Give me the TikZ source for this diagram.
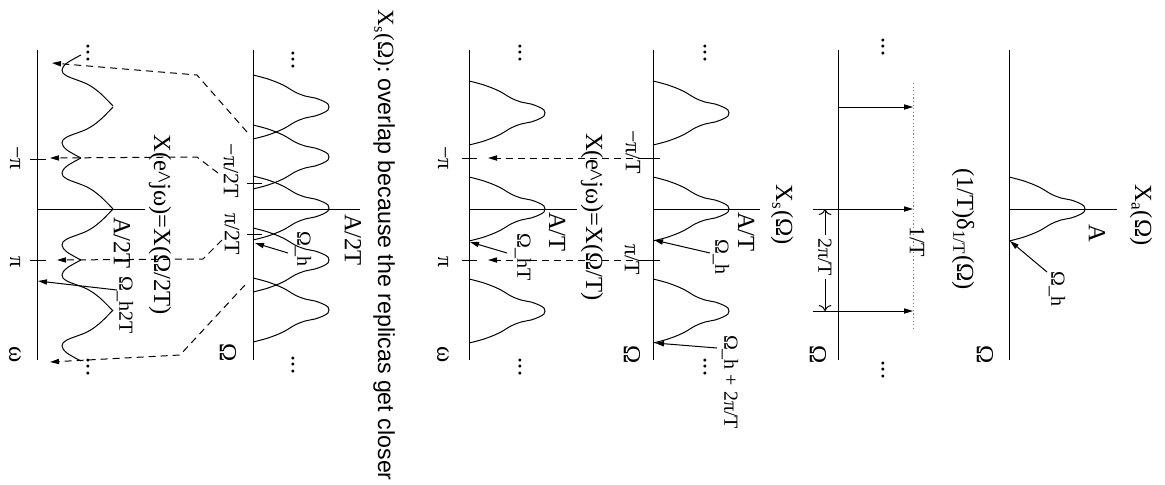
\documentclass[tikz,border=0pt]{standalone}
\usepackage{fontspec}
\setmainfont{Liberation Serif}
\newfontfamily\sansf{Liberation Sans}
\usetikzlibrary{arrows.meta}
\begin{document}
\begin{tikzpicture}[x=0.5pt,y=-0.5pt,line width=0.5pt,
  big/.style={rotate=-90,inner sep=0pt,font=\fontsize{12.3}{14}\selectfont},
  mid/.style={rotate=-90,inner sep=0pt,font=\fontsize{11}{12}\selectfont},
  sml/.style={rotate=-90,inner sep=0pt,font=\fontsize{10}{11}\selectfont},
  tipline/.style={-{Triangle[length=4.5pt,width=2.6pt]}},
  dline/.style={dash pattern=on 3.5pt off 2.5pt,-{Triangle[length=4.5pt,width=2.6pt]}},
  dotline/.style={gray,dash pattern=on 0.6pt off 1.2pt},
  pulse/.pic={\draw plot[smooth,tension=0.6] coordinates {(0,-32) (15,-28) (30,-22) (42,-15) (52,-11) (62,-9) (70,-6) (75,-3) (76,0) (75,3) (70,6) (62,9) (52,11) (42,15) (30,22) (15,28) (0,32)};}
]
\useasboundingbox (0,0) rectangle (1165,484);

% ---------- Panel 1: X_a ----------
\coordinate (p1t) at (1009,50); \coordinate (p1b) at (1009,360);
\coordinate (p1o) at (1009,209); \coordinate (p1v) at (1117,209);
\draw (p1t) -- (p1b);
\draw (p1o) -- (p1v);
\pic at (1009,209) {pulse};
\node[big] (xa) at (1141,215) {X\textsubscript{a}(Ω)};
\node[big] (A1) at (1097,233) {A};
\node[big] (om1) at (985,355) {Ω};
\node[sml] (oh1) at (1057,289) {Ω\_h};
\coordinate (oh1s) at (1047,272); \coordinate (oh1e) at (1010,241);
\draw[tipline] (oh1s) -- (oh1e);

% ---------- Panel 2: delta comb ----------
\coordinate (p2t) at (838,50); \coordinate (p2b) at (838,360);
\draw (p2t) -- (p2b);
\foreach \y/\n in {107/a,209/b,311/c}{
  \coordinate (imp\n s) at (838,\y); \coordinate (imp\n e) at (913,\y);
  \draw[tipline] (imp\n s) -- (imp\n e);}
\coordinate (dot1) at (913,83); \coordinate (dot2) at (913,328);
\draw[dotline] (dot1) -- (dot2);
\coordinate (ex1a) at (813,209); \coordinate (ex2a) at (813,311);
\draw (ex1a) -- (impbs);
\draw (ex2a) -- (impcs);
\coordinate (dm1) at (825,209); \coordinate (dm2) at (825,311);
\node[sml,fill=white,inner xsep=1.5pt] (twopiT) at (825,257) {2π/T};
\draw[-{To[length=3pt]}] (twopiT) -- (dm1);
\draw[-{To[length=3pt]}] (twopiT) -- (dm2);
\node[big] (delta) at (963,229) {(1/T)δ\textsubscript{1/T}(Ω)};
\node[mid] (oneT) at (917,242) {1/T};
\node[big] (om2) at (818,355) {Ω};
\node[big] (d2a) at (883,47) {...};
\node[big] (d2b) at (883,370) {...};

% ---------- Panel 3: X_s ----------
\coordinate (p3t) at (653,50); \coordinate (p3b) at (653,360);
\coordinate (p3o) at (653,209); \coordinate (p3v) at (760,209);
\draw (p3t) -- (p3b);
\draw (p3o) -- (p3v);
\foreach \y in {113,209,311} \pic at (653,\y) {pulse};
\coordinate (t3a1) at (645,158); \coordinate (t3a2) at (660,158);
\coordinate (t3b1) at (645,260); \coordinate (t3b2) at (660,260);
\draw (t3a1) -- (t3a2);
\draw (t3b1) -- (t3b2);
\node[mid] (mpiT) at (633,152) {−π/T};
\node[mid] (piT) at (632,260) {π/T};
\node[big] (xs1) at (782,215) {X\textsubscript{s}(Ω)};
\node[big] (AT1) at (746,232) {A/T};
\node[sml] (oh3) at (721,257) {Ω\_h};
\coordinate (oh3s) at (710,253); \coordinate (oh3e) at (654,240);
\draw[tipline] (oh3s) -- (oh3e);
\node[sml] (oh3b) at (730,382) {Ω\_h + 2π/T};
\coordinate (oh3bs) at (717,348); \coordinate (oh3be) at (655,343);
\draw[tipline] (oh3bs) -- (oh3be);
\node[big] (om3) at (632,355) {Ω};
\node[big] (d3a) at (705,53) {...};
\node[big] (d3b) at (705,367) {...};

% ---------- Panel 4: X(e^jw) ----------
\coordinate (p4t) at (469,50); \coordinate (p4b) at (469,360);
\coordinate (p4o) at (469,209); \coordinate (p4v) at (577,209);
\draw (p4t) -- (p4b);
\draw (p4o) -- (p4v);
\foreach \y in {113,209,311} \pic at (469,\y) {pulse};
\coordinate (t4a1) at (462,158); \coordinate (t4a2) at (477,158);
\coordinate (t4b1) at (462,260); \coordinate (t4b2) at (477,260);
\draw (t4a1) -- (t4a2);
\draw (t4b1) -- (t4b2);
\node[mid] (mpi4) at (443,158) {−π};
\node[mid] (pi4) at (443,262) {π};
\node[big] (w4) at (443,355) {ω};
\node[big] (xe1) at (592,217) {X(e\textasciicircum jω)=X(Ω/T)};
\node[big] (AT4) at (557,232) {A/T};
\node[sml] (oh4) at (523,257) {Ω\_hT};
\coordinate (oh4s) at (507,253); \coordinate (oh4e) at (470,242);
\draw[tipline] (oh4s) -- (oh4e);
\node[big] (d4a) at (520,53) {...};
\node[big] (d4b) at (520,367) {...};
\coordinate (m3a) at (488,158); \coordinate (m3b) at (488,260);
\draw[dline] (t3a1) -- (m3a);
\draw[dline] (t3b1) -- (m3b);

% ---------- title ----------
\node[big,font=\fontsize{11.6}{14}\selectfont] (title) at (384,245) {X\textsubscript{s}(Ω): {\sansf overlap because the replicas get closer}};

% ---------- Panel 5: overlapping X_s ----------
\coordinate (p5t) at (253,50); \coordinate (p5b) at (253,360);
\coordinate (p5o) at (253,209); \coordinate (p5v) at (360,209);
\draw (p5t) -- (p5b);
\draw (p5o) -- (p5v);
\foreach \y in {107,157,208,260,310} \pic at (253,\y) {pulse};
\coordinate (t5a1) at (247,183); \coordinate (t5a2) at (262,183);
\coordinate (t5b1) at (247,234); \coordinate (t5b2) at (262,234);
\draw (t5a1) -- (t5a2);
\draw (t5b1) -- (t5b2);
\node[mid] (mpi2T) at (231,171) {−π/2T};
\node[mid] (pi2T) at (232,234) {π/2T};
\node[big] (A2T) at (353,240) {A/2T};
\node[sml] (oh5) at (303,249) {Ω\_h};
\coordinate (oh5s) at (288,253); \coordinate (oh5e) at (255,243);
\draw[tipline] (oh5s) -- (oh5e);
\node[big] (om5) at (228,353) {Ω};
\node[big] (d5a) at (293,60) {...};
\node[big] (d5b) at (293,365) {...};

% ---------- Panel 6: aliased X(e^jw) ----------
\coordinate (p6t) at (37,50); \coordinate (p6b) at (37,360);
\coordinate (p6o) at (37,209); \coordinate (p6v) at (145,209);
\draw (p6t) -- (p6b);
\draw (p6o) -- (p6v);
\foreach \c in {55,158,260}
  \draw plot[smooth,tension=0.6] coordinates {(81,\c) (67,\c+8) (62,\c+15) (67,\c+21) (87,\c+29) (100,\c+38) (113,\c+51)};
\foreach \p in {107,209,310}
  \draw plot[smooth,tension=0.6] coordinates {(113,\p) (100,\p+13) (87,\p+22) (67,\p+30) (62,\p+36) (67,\p+43) (81,\p+51)};
\coordinate (t6a1) at (30,159); \coordinate (t6a2) at (46,159);
\coordinate (t6b1) at (30,260); \coordinate (t6b2) at (46,260);
\draw (t6a1) -- (t6a2);
\draw (t6b1) -- (t6b2);
\node[mid] (mpi6) at (15,158) {−π};
\node[mid] (pi6) at (15,262) {π};
\node[big] (w6) at (15,355) {ω};
\node[big] (xe2) at (160,225) {X(e\textasciicircum jω)=X(Ω/2T)};
\node[big] (A2T6) at (122,243) {A/2T};
\node[sml] (oh6) at (125,305) {Ω\_h2T};
\coordinate (oh6s) at (117,290); \coordinate (oh6e) at (38,281);
\draw[tipline] (oh6s) -- (oh6e);
\node[big] (d6a) at (88,53) {...};
\node[big] (d6b) at (88,367) {...};

% dashed mapping lines
\coordinate (q1a) at (247,132); \coordinate (q1b) at (197,75); \coordinate (q1c) at (52,63);
\draw[dline] (q1a) -- (q1b) -- (q1c);
\coordinate (q2a) at (218,173); \coordinate (q2b) at (197,157); \coordinate (q2c) at (50,158);
\draw[dline] (q2a) -- (q2b) -- (q2c);
\coordinate (q3a) at (222,240); \coordinate (q3b) at (203,259); \coordinate (q3c) at (57,260);
\draw[dline] (q3a) -- (q3b) -- (q3c);
\coordinate (q4a) at (245,285); \coordinate (q4b) at (180,355); \coordinate (q4c) at (50,362);
\draw[dline] (q4a) -- (q4b) -- (q4c);
\end{tikzpicture}
\end{document}
